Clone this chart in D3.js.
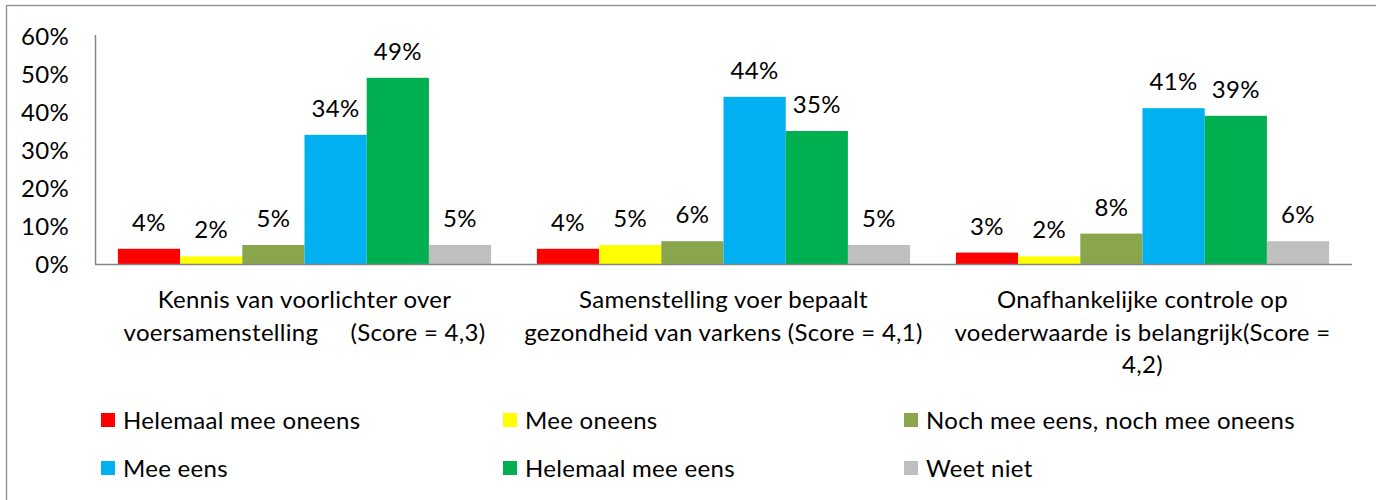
<!DOCTYPE html>
<html>
<head>
<meta charset="utf-8">
<script src="https://cdn.jsdelivr.net/npm/d3@7"></script>
<style>
  html, body { margin: 0; padding: 0; background: #fff; }
  svg { display: block; font-family: Lato, "Open Sans", sans-serif; letter-spacing: 0.3px; }
  text { fill: #000; }
</style>
</head>
<body>
<svg id="chart" width="1376" height="500"></svg>
<script>
// Categories (label lines as wrapped in the original)
const categories = [
  ['Kennis van voorlichter over', 'voersamenstelling     (Score = 4,3)'],
  ['Samenstelling voer bepaalt', 'gezondheid van varkens (Score = 4,1)'],
  ['Onafhankelijke controle op', 'voederwaarde is belangrijk(Score =', '4,2)']
];
const seriesNames = ['Helemaal mee oneens', 'Mee oneens', 'Noch mee eens, noch mee oneens',
  'Mee eens', 'Helemaal mee eens', 'Weet niet'];
const seriesColors = ['#ff0000', '#ffff00', '#8aa64c', '#00b0f0', '#00b050', '#bfbfbf'];
// values per series, one per category (in %)
const helemaalOneens = [4, 4, 3];
const meeOneens = [2, 5, 2];
const neutraal = [5, 6, 8];
const meeEens = [34, 44, 41];
const helemaalEens = [49, 35, 39];
const weetNiet = [5, 5, 6];
const yTicks = [0, 10, 20, 30, 40, 50, 60];

const seriesValues = [helemaalOneens, meeOneens, neutraal, meeEens, helemaalEens, weetNiet];

const FONT = 24;
const svg = d3.select('#chart');
const plot = { left: 95, right: 1352, top: 36, bottom: 264 };

// outer chart border (cut off on right/bottom like the picture)
svg.append('rect')
  .attr('x', 6.5).attr('y', 5.5)
  .attr('width', 1400).attr('height', 520)
  .attr('fill', 'none')
  .attr('stroke', '#8c8c8c')
  .attr('stroke-width', 1.3);

const y = d3.scaleLinear().domain([0, 60]).range([plot.bottom, plot.top]);
const x0 = d3.scaleBand().domain(d3.range(categories.length)).range([plot.left, plot.right]);
const x1 = d3.scaleBand().domain(d3.range(seriesNames.length))
  .range([0, x0.bandwidth()]).paddingOuter(0.368).paddingInner(0);

// y axis
const yAxis = svg.append('g')
  .attr('transform', `translate(${plot.left},0)`)
  .call(d3.axisLeft(y).tickValues(yTicks).tickFormat(d => d + '%').tickSize(0).tickPadding(26));
yAxis.select('.domain').attr('stroke', '#868686').attr('stroke-width', 1.5)
  .attr('d', `M0.5,${plot.top - 1}V${plot.bottom}`);
yAxis.selectAll('text')
  .attr('font-size', FONT).attr('font-family', 'Lato').attr('fill', '#000').attr('dy', '0.34em');

// bars
const groups = svg.append('g').selectAll('g')
  .data(categories)
  .join('g')
  .attr('transform', (d, i) => `translate(${x0(i)},0)`);

groups.each(function (c, ci) {
  const g = d3.select(this);
  seriesValues.forEach((vals, si) => {
    const v = vals[ci];
    g.append('rect')
      .attr('x', x1(si)).attr('width', x1.bandwidth())
      .attr('y', y(v)).attr('height', y(0) - y(v))
      .attr('fill', seriesColors[si]);
    g.append('text')
      .attr('x', x1(si) + x1.bandwidth() / 2)
      .attr('y', y(v) - 18)
      .attr('text-anchor', 'middle')
      .attr('font-size', FONT)
      .text(v + '%');
  });
});

// x axis
const xAxis = svg.append('g')
  .attr('transform', `translate(0,${plot.bottom})`)
  .call(d3.axisBottom(x0).tickSize(0).tickFormat(''));
xAxis.select('.domain').attr('stroke', '#868686').attr('stroke-width', 1.5)
  .attr('d', `M${plot.left},0.5H${plot.right}`);

// category labels
categories.forEach((lines, ci) => {
  const t = svg.append('text')
    .attr('text-anchor', 'middle')
    .attr('font-size', FONT)
    .attr('xml:space', 'preserve')
    .style('white-space', 'pre');
  lines.forEach((ln, li) => {
    t.append('tspan')
      .attr('x', x0(ci) + x0.bandwidth() / 2)
      .attr('y', 308 + li * 32.5)
      .text(ln);
  });
});

// legend
const legendCols = [101, 503, 904];
const legendRows = [413, 461];
const legend = svg.append('g').selectAll('g')
  .data(seriesNames)
  .join('g')
  .attr('transform', (d, i) => `translate(${legendCols[i % 3]},${legendRows[Math.floor(i / 3)]})`);
legend.append('rect')
  .attr('width', 14).attr('height', 14)
  .attr('fill', (d, i) => seriesColors[i]);
legend.append('text')
  .attr('x', 22).attr('y', 16)
  .attr('font-size', FONT)
  .text(d => d);
</script>
</body>
</html>
